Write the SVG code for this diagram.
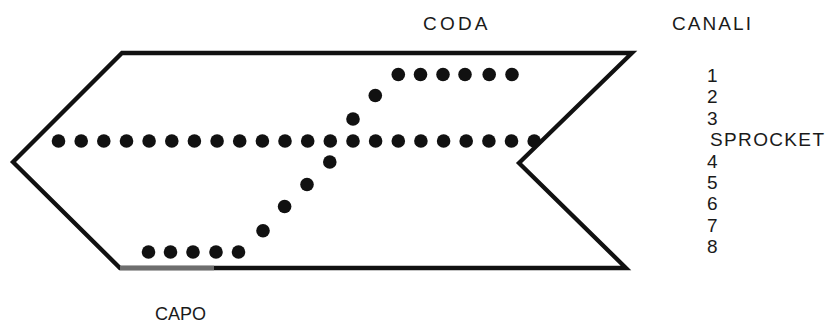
<svg xmlns="http://www.w3.org/2000/svg" width="830" height="323" viewBox="0 0 830 323">
<style>
.lbl{font-family:"Liberation Sans",Arial,Helvetica,sans-serif;font-size:19px;fill:#1a1a1a}
.h{fill:#111}
</style>
<rect width="830" height="323" fill="#fff"/>
<g id="tape">
<polygon points="122,53 632,53 519,163 626,268 120,268 13,162" fill="none" stroke="#111" stroke-width="4.3" stroke-linejoin="miter"/>
<line id="capo-edge" x1="120" y1="268" x2="214" y2="268" stroke="#6e6e6e" stroke-width="4.3"/>
</g>
<g id="holes" class="h">
<g id="sprocket">
<circle cx="58.5" cy="141" r="6.8"/><circle cx="81.2" cy="141" r="6.8"/><circle cx="103.8" cy="141" r="6.8"/><circle cx="126.5" cy="141" r="6.8"/><circle cx="149.1" cy="141" r="6.8"/><circle cx="171.8" cy="141" r="6.8"/><circle cx="194.4" cy="141" r="6.8"/><circle cx="217.1" cy="141" r="6.8"/><circle cx="239.7" cy="141" r="6.8"/><circle cx="262.4" cy="141" r="6.8"/><circle cx="285" cy="141" r="6.8"/><circle cx="307.7" cy="141" r="6.8"/><circle cx="330.3" cy="141" r="6.8"/><circle cx="353" cy="141" r="6.8"/><circle cx="375.6" cy="141" r="6.8"/><circle cx="398.3" cy="141" r="6.8"/><circle cx="420.9" cy="141" r="6.8"/><circle cx="443.6" cy="141" r="6.8"/><circle cx="466.2" cy="141" r="6.8"/><circle cx="488.9" cy="141" r="6.8"/><circle cx="511.5" cy="141" r="6.8"/><circle cx="534.2" cy="141" r="6.8"/>
</g>
<g id="ch1">
<circle cx="398.3" cy="74.5" r="6.8"/><circle cx="420.5" cy="74.5" r="6.8"/><circle cx="443" cy="74.5" r="6.8"/><circle cx="465" cy="74.5" r="6.8"/><circle cx="489.2" cy="74.5" r="6.8"/><circle cx="512" cy="74.5" r="6.8"/>
</g>
<circle id="ch2" class="h" cx="375.3" cy="95.5" r="6.8"/>
<circle id="ch3" class="h" cx="353" cy="119" r="6.8"/>
<circle id="ch4" class="h" cx="329.8" cy="162" r="6.8"/>
<circle id="ch5" class="h" cx="307" cy="184.5" r="6.8"/>
<circle id="ch6" class="h" cx="284.6" cy="206.5" r="6.8"/>
<circle id="ch7" class="h" cx="263" cy="230.8" r="6.8"/>
<g id="ch8">
<circle cx="148.5" cy="252" r="6.8"/><circle cx="170.5" cy="252" r="6.8"/><circle cx="193" cy="252" r="6.8"/><circle cx="216" cy="252" r="6.8"/><circle cx="238.5" cy="252" r="6.8"/>
</g>
</g>
<g id="labels" class="lbl">
<text x="423" y="30" textLength="64.5" lengthAdjust="spacing">CODA</text>
<text x="672" y="30" textLength="79" lengthAdjust="spacing">CANALI</text>
<text x="155" y="320" textLength="51" lengthAdjust="spacingAndGlyphs">CAPO</text>
<text x="707" y="81.7">1</text>
<text x="707" y="103.2">2</text>
<text x="707" y="124.6">3</text>
<text x="710" y="146.1" textLength="114" lengthAdjust="spacing">SPROCKET</text>
<text x="707" y="167.5">4</text>
<text x="707" y="189">5</text>
<text x="707" y="210.4">6</text>
<text x="707" y="231.9">7</text>
<text x="707" y="253.3">8</text>
</g>
</svg>
